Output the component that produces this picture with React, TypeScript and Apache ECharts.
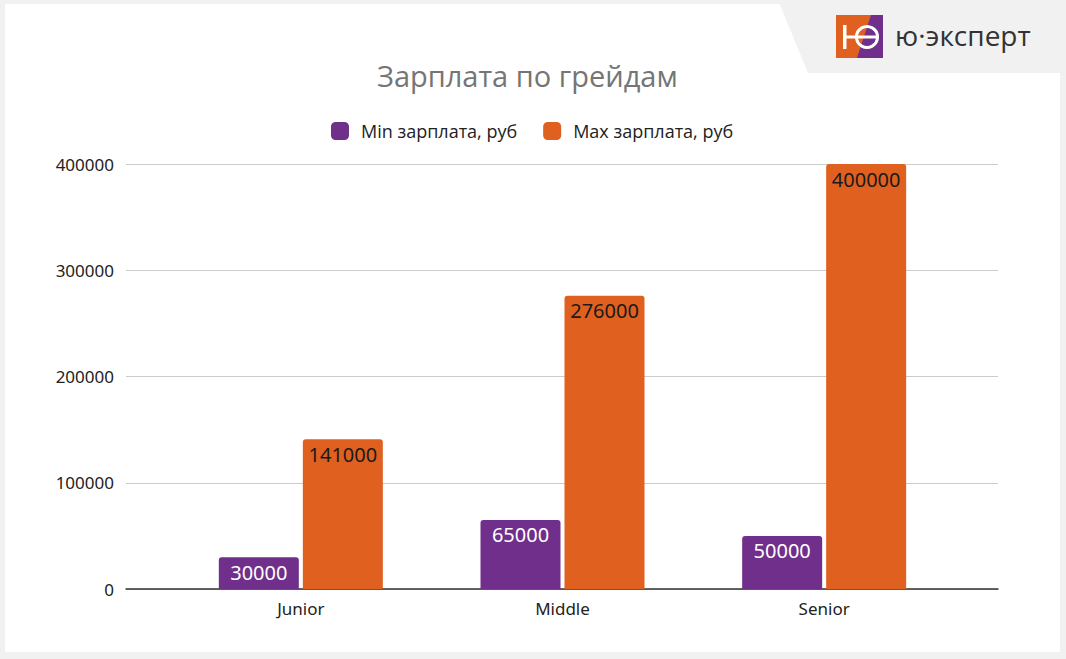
import * as echarts from "echarts";
import { useEffect, useRef } from "react";

const grades = ["Junior", "Middle", "Senior"];
const minSalary = [30000, 65000, 50000];
const maxSalary = [141000, 276000, 400000];
const seriesNames = ["Min зарплата, руб", "Max зарплата, руб"];
const chartTitle = "Зарплата по грейдам";
const brandName = "ю·эксперт";

const PURPLE = "#702f8b";
const ORANGE = "#e06020";
const FONT = "'Open Sans', 'Noto Sans', sans-serif";

export default function App() {
  const ref = useRef<HTMLDivElement | null>(null);

  useEffect(() => {
    if (!ref.current) {
      return;
    }

    const chart = echarts.init(ref.current, null, { renderer: "svg" });
    chart.setOption({
      animation: false,
      backgroundColor: "transparent",
      title: {
        text: chartTitle,
        left: 372,
        top: 56,
        textStyle: { color: "#757575", fontSize: 29, fontWeight: "normal", fontFamily: FONT }
      },
      legend: {
        top: 117,
        left: 326,
        itemWidth: 18,
        itemHeight: 18,
        itemGap: 26,
        icon: "roundRect",
        textStyle: { color: "#222", fontSize: 18, fontFamily: FONT, padding: [0, 0, 0, 7] },
        data: seriesNames
      },
      grid: [
        { left: 126, right: 68, top: 164, bottom: 70 },
        { left: 170, right: 111, top: 164, bottom: 70 }
      ],
      xAxis: [
        {
          type: "category",
          gridIndex: 0,
          data: [""],
          axisLine: { show: true, lineStyle: { color: "#333", width: 1.5 } },
          axisTick: { show: false },
          axisLabel: { show: false }
        },
        {
          type: "category",
          gridIndex: 1,
          data: grades,
          axisLine: { show: false },
          axisTick: { show: false },
          axisLabel: { color: "#222", fontSize: 17, margin: 11, fontFamily: "'Noto Sans', sans-serif" }
        }
      ],
      yAxis: [
        {
          type: "value",
          gridIndex: 0,
          min: 0,
          max: 400000,
          interval: 100000,
          axisLabel: {
            color: "#222",
            fontSize: 17,
            margin: 12,
            fontFamily: "'Noto Sans', sans-serif",
            formatter: (value: number) => String(value)
          },
          splitLine: { lineStyle: { color: "#cccccc", width: 1.2 } },
          axisLine: { show: false },
          axisTick: { show: false }
        },
        {
          type: "value",
          gridIndex: 1,
          min: 0,
          max: 400000,
          interval: 100000,
          show: false,
          splitLine: { show: false }
        }
      ],
      series: [
        {
          name: seriesNames[0],
          type: "bar",
          xAxisIndex: 1,
          yAxisIndex: 1,
          data: minSalary,
          barWidth: 80,
          barGap: "5%",
          itemStyle: { color: PURPLE, borderRadius: [3, 3, 0, 0] },
          label: {
            show: true,
            position: "insideTop",
            distance: 5,
            color: "#fff",
            fontSize: 20,
            fontFamily: "'Noto Sans', sans-serif"
          }
        },
        {
          name: seriesNames[1],
          type: "bar",
          xAxisIndex: 1,
          yAxisIndex: 1,
          data: maxSalary,
          barWidth: 80,
          barGap: "5%",
          itemStyle: { color: ORANGE, borderRadius: [3, 3, 0, 0] },
          label: {
            show: true,
            position: "insideTop",
            distance: 5,
            color: "#1a1a1a",
            fontSize: 20,
            fontFamily: "'Noto Sans', sans-serif"
          }
        }
      ],
      graphic: [
        {
          type: "polygon",
          shape: { points: [[778, 0], [1066, 0], [1066, 73], [808, 73]] },
          style: { fill: "#f1f1f1" },
          z: 0
        },
        {
          type: "group",
          z: 10,
          children: [
            { type: "rect", shape: { x: 836, y: 15, width: 47, height: 43 }, style: { fill: ORANGE } },
            {
              type: "polygon",
              shape: { points: [[871, 15], [883, 15], [883, 58], [857, 58]] },
              style: { fill: PURPLE }
            },
            { type: "rect", shape: { x: 843, y: 25, width: 3.5, height: 24 }, style: { fill: "#fff" } },
            { type: "rect", shape: { x: 845, y: 35.5, width: 12, height: 3 }, style: { fill: "#fff" } },
            {
              type: "circle",
              shape: { cx: 867, cy: 37, r: 10.5 },
              style: { fill: "none", stroke: "#fff", lineWidth: 3 }
            },
            { type: "rect", shape: { x: 857, y: 35.5, width: 21, height: 3 }, style: { fill: "#fff" } }
          ]
        },
        {
          type: "text",
          x: 895,
          y: 35,
          z: 10,
          style: {
            text: brandName,
            fill: "#333",
            fontSize: 28,
            fontFamily: FONT,
            verticalAlign: "middle"
          }
        }
      ]
    });

    const resize = () => chart.resize();
    window.addEventListener("resize", resize);
    return () => {
      window.removeEventListener("resize", resize);
      chart.dispose();
    };
  }, []);

  return (
    <div style={{ position: "absolute", left: 0, top: 0, width: 1066, height: 659, background: "#f1f1f1" }}>
      <div style={{ position: "absolute", left: 5, top: 4, width: 1055, height: 648, background: "#fff" }} />
      <div ref={ref} style={{ position: "absolute", left: 0, top: 0, width: 1066, height: 659 }} />
    </div>
  );
}
